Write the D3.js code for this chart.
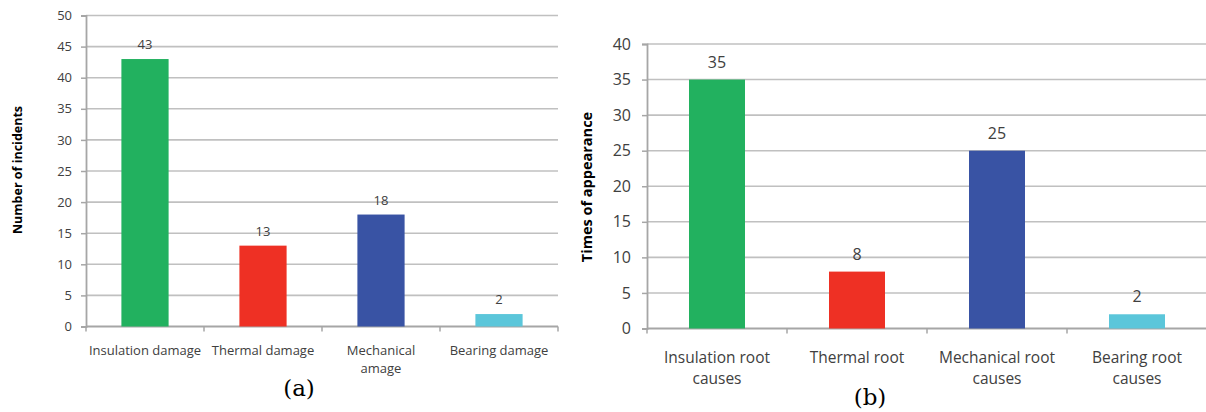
<!DOCTYPE html>
<html>
<head>
<meta charset="utf-8">
<script src="https://cdn.jsdelivr.net/npm/d3@7"></script>
<style>
  html, body { margin: 0; padding: 0; background: #fff; }
  svg { display: block; }
</style>
</head>
<body>
<svg id="chart" width="1206" height="412"></svg>
<script>
// Panel (a): failure incidents by damage type
const damageCategories = ["Insulation damage", "Thermal damage", "Mechanical\namage", "Bearing damage"];
const damageCounts = [43, 13, 18, 2];
const damageTicks = [0, 5, 10, 15, 20, 25, 30, 35, 40, 45, 50];

// Panel (b): appearances of root causes
const causeCategories = ["Insulation root\ncauses", "Thermal root", "Mechanical root\ncauses", "Bearing root\ncauses"];
const causeCounts = [35, 8, 25, 2];
const causeTicks = [0, 5, 10, 15, 20, 25, 30, 35, 40];

const barColors = ["#22b15f", "#ee3024", "#3953a4", "#5bc6da"];
const sans = "'Open Sans', 'Noto Sans', sans-serif";

const svg = d3.select("#chart");

function drawPanel(opt) {
  const g = svg.append("g");
  const x = d3.scaleBand().domain(opt.categories).range([opt.x0, opt.x1]).padding(0);
  const y = d3.scaleLinear().domain([0, opt.yMax]).range([opt.y0, opt.yTop]);

  // horizontal gridlines
  g.selectAll("line.grid").data(opt.ticks.filter(t => t > 0)).join("line")
    .attr("x1", opt.x0).attr("x2", opt.gridEnd)
    .attr("y1", d => y(d)).attr("y2", d => y(d))
    .attr("stroke", "#c0c0c0").attr("stroke-width", 1.6);

  // y axis
  const yAxis = d3.axisLeft(y).tickValues(opt.ticks).tickSize(5).tickPadding(opt.tickPad);
  const ya = g.append("g").attr("transform", `translate(${opt.x0},0)`).call(yAxis);
  ya.select(".domain").attr("stroke", "#a6a6a6").attr("stroke-width", 1.8);
  ya.selectAll(".tick line").attr("stroke", "#a6a6a6").attr("stroke-width", 1.5);
  ya.selectAll(".tick text").attr("fill", "#404040")
    .style("font-family", sans).style("font-size", opt.tickFont + "px");

  // x axis baseline with category boundary ticks
  g.append("line").attr("x1", opt.x0).attr("x2", opt.gridEnd)
    .attr("y1", y(0)).attr("y2", y(0))
    .attr("stroke", "#a6a6a6").attr("stroke-width", 1.8);
  const bounds = opt.categories.map(c => x(c)).concat([x(opt.categories[opt.categories.length - 1]) + x.bandwidth()]);
  g.selectAll("line.xt").data(bounds).join("line")
    .attr("x1", d => d).attr("x2", d => d)
    .attr("y1", y(0)).attr("y2", y(0) + 5)
    .attr("stroke", "#a6a6a6").attr("stroke-width", 1.5);

  // bars
  const bw = x.bandwidth() * 0.4;
  g.selectAll("rect.bar").data(opt.values).join("rect")
    .attr("x", (d, i) => x(opt.categories[i]) + (x.bandwidth() - bw) / 2)
    .attr("width", bw)
    .attr("y", d => y(d))
    .attr("height", d => y(0) - y(d))
    .attr("fill", (d, i) => barColors[i]);

  // value labels
  g.selectAll("text.val").data(opt.values).join("text")
    .attr("x", (d, i) => x(opt.categories[i]) + x.bandwidth() / 2)
    .attr("y", d => y(d) - opt.valGap)
    .attr("text-anchor", "middle")
    .attr("fill", "#404040")
    .style("font-family", sans).style("font-size", opt.valFont + "px")
    .text(d => d);

  // category labels (multi-line)
  opt.categories.forEach(c => {
    const t = g.append("text")
      .attr("x", x(c) + x.bandwidth() / 2)
      .attr("y", y(0) + opt.labelOffset)
      .attr("text-anchor", "middle")
      .attr("fill", "#404040")
      .style("font-family", sans).style("font-size", opt.labelFont + "px");
    c.split("\n").forEach((line, k) => {
      t.append("tspan").attr("x", x(c) + x.bandwidth() / 2).attr("dy", k === 0 ? 0 : opt.lineH).text(line);
    });
  });

  // y axis title
  g.append("text")
    .attr("transform", `translate(${opt.titleX},${opt.titleY}) rotate(-90)`)
    .attr("text-anchor", "middle")
    .attr("fill", "#000")
    .style("font-family", sans).style("font-weight", "bold")
    .style("font-size", opt.titleFont + "px")
    .text(opt.title);

  // panel caption
  g.append("text")
    .attr("x", opt.capX).attr("y", opt.capY)
    .attr("text-anchor", "middle")
    .attr("fill", "#000")
    .style("font-family", "'DejaVu Serif', 'Liberation Serif', serif")
    .style("font-size", "23px")
    .text(opt.caption);
}

drawPanel({
  categories: damageCategories, values: damageCounts, ticks: damageTicks, yMax: 50,
  x0: 86, x1: 558, gridEnd: 558, y0: 326.5, yTop: 15.5,
  tickPad: 9, tickFont: 13, valFont: 13, valGap: 10,
  labelFont: 13, labelOffset: 28.5, lineH: 18,
  title: "Number of incidents", titleX: 22, titleY: 170, titleFont: 12.5,
  caption: "(a)", capX: 299, capY: 396
});

drawPanel({
  categories: causeCategories, values: causeCounts, ticks: causeTicks, yMax: 40,
  x0: 647, x1: 1207, gridEnd: 1207, y0: 328.5, yTop: 44,
  tickPad: 11, tickFont: 16, valFont: 16, valGap: 12,
  labelFont: 15.5, labelOffset: 34, lineH: 21,
  title: "Times of appearance", titleX: 592, titleY: 187, titleFont: 14.5,
  caption: "(b)", capX: 870, capY: 405
});
</script>
</body>
</html>
